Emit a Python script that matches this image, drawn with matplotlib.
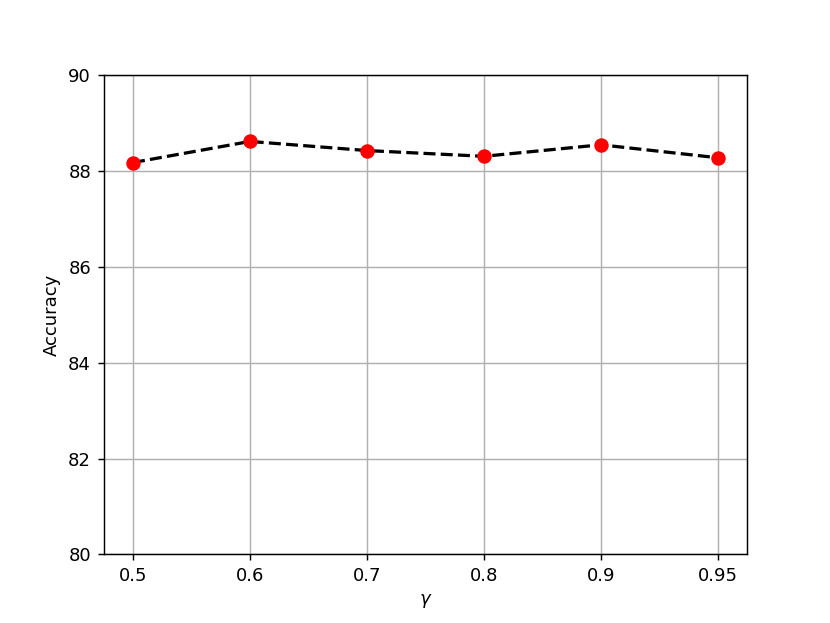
import matplotlib.pyplot as plt

gammas = ["0.5", "0.6", "0.7", "0.8", "0.9", "0.95"]
accuracy = [88.17, 88.61, 88.42, 88.30, 88.54, 88.27]

fig, ax = plt.subplots(figsize=(830 / 130, 623 / 130), dpi=130)
x = range(len(gammas))
ax.plot(x, accuracy, "k--", linewidth=1.8, zorder=2)
ax.plot(x, accuracy, "o", color="red", markersize=7, zorder=3)
ax.set_xticks(list(x))
ax.set_xticklabels(gammas)
ax.set_ylim(80, 90)
ax.set_xlabel(r"$\gamma$")
ax.set_ylabel("Accuracy")
ax.grid(True)
ax.set_axisbelow(True)

fig.savefig("out.png", dpi=130)
